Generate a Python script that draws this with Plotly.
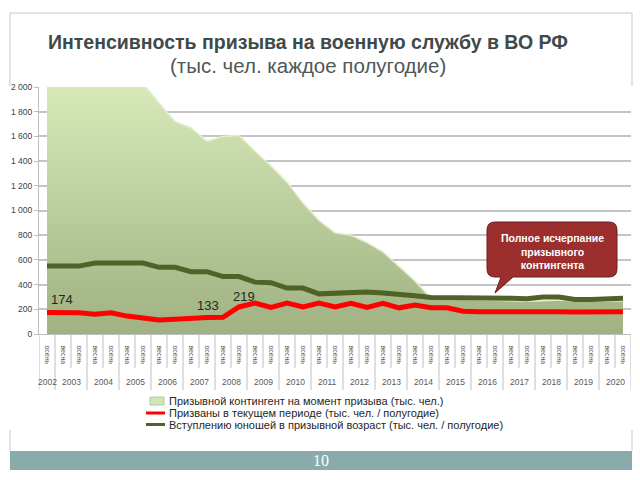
import plotly.graph_objects as go

# ---------------- data ----------------
years = ["2002", "2003", "2004", "2005", "2006", "2007", "2008", "2009", "2010", "2011",
         "2012", "2013", "2014", "2015", "2016", "2017", "2018", "2019", "2020"]
seasons = ["осень"] + ["весна", "осень"] * 18

contingent = [2150, 2200, 2250, 2250, 2200, 2100, 2030, 1870, 1720, 1670, 1560, 1600, 1610,
              1480, 1360, 1230, 1060, 920, 820, 800, 740, 665, 550, 430, 290, 280, 280,
              275, 275, 270, 265, 270, 275, 270, 265, 265, 270]
drafted = [174, 174, 172, 160, 172, 145, 125, 113, 120, 130, 133, 135, 219, 250, 215, 250,
           220, 250, 220, 248, 215, 248, 212, 235, 212, 212, 185, 180, 180, 190, 185, 180,
           180, 178, 180, 180, 180]
coming_of_age = [550, 550, 550, 575, 575, 575, 575, 540, 540, 505, 505, 465, 465, 420, 415,
                 372, 372, 325, 332, 340, 340, 332, 325, 310, 295, 295, 300, 300, 300, 290,
                 285, 300, 300, 280, 280, 290, 290]
y_ticks = [0, 200, 400, 600, 800, 1000, 1200, 1400, 1600, 1800, 2000]
y_tick_text = ["0", "200", "400", "600", "800", "1 000", "1 200", "1 400", "1 600", "1 800", "2 000"]
labelled_points = [0, 10, 12]  # indices of drafted values with data labels

series_names = ["Призывной контингент на момент призыва (тыс. чел.)",
                "Призваны в текущем периоде (тыс. чел. / полугодие)",
                "Вступлению юношей в призывной возраст (тыс. чел. / полугодие)"]

idx = list(range(len(seasons)))

# ---------------- geometry helpers (pixel -> paper) ----------------
L, R, T, B = 39, 631, 87, 334
W, H = R - L, B - T


def px(x):
    return (x - L) / W


def py(y):
    return (B - y) / H


FONT = "Liberation Sans, Arial, sans-serif"

fig = go.Figure()

fig.add_trace(go.Scatter(
    x=idx, y=contingent, mode="lines", name=series_names[0],
    fill="tozeroy",
    fillgradient=dict(type="vertical", colorscale=[[0, "#a0b182"], [1, "#d6e9b7"]],
                      start=0, stop=2000),
    line=dict(color="#e2eecf", width=1.5), showlegend=False,
))
fig.add_trace(go.Scatter(
    x=idx, y=coming_of_age, mode="lines", name=series_names[2],
    line=dict(color="#4f6228", width=5), showlegend=False,
))
fig.add_trace(go.Scatter(
    x=idx, y=drafted, mode="lines", name=series_names[1],
    line=dict(color="#ff0000", width=5), showlegend=False,
))

shapes = []
annotations = []

# category separators below the x axis
for k in range(len(seasons) + 1):
    xb = k - 0.5
    year_boundary = (k == 0) or (k % 2 == 1)
    y_end = py(390) if year_boundary else py(368)
    shapes.append(dict(type="line", xref="x", yref="paper", x0=xb, x1=xb, y0=0, y1=y_end,
                       line=dict(color="#bfbfbf", width=1)))

# year labels
for i, yr in enumerate(years):
    center = 0 if i == 0 else 2 * i - 0.5
    annotations.append(dict(x=center, y=py(382), xref="x", yref="paper", text=yr,
                            showarrow=False, font=dict(family=FONT, size=8.5, color="#595959"),
                            xanchor="center", yanchor="middle"))

# data labels on the red line
shifts = {0: (15, 13), 10: (1, 12), 12: (5, 10)}
for i in labelled_points:
    dx, dy = shifts[i]
    annotations.append(dict(x=i, y=drafted[i], xref="x", yref="y", text=str(drafted[i]),
                            showarrow=False, xshift=dx, yshift=dy,
                            font=dict(family=FONT, size=13, color="#262626"),
                            xanchor="center", yanchor="middle"))

# title
annotations.append(dict(x=px(307.5), y=py(42), xref="paper", yref="paper",
                        text="<b>Интенсивность призыва на военную службу в ВО РФ</b>",
                        showarrow=False, font=dict(family=FONT, size=19.5, color="#3e4a4a"),
                        xanchor="center", yanchor="middle"))
annotations.append(dict(x=px(307.5), y=py(65), xref="paper", yref="paper",
                        text="(тыс. чел. каждое полугодие)",
                        showarrow=False, font=dict(family=FONT, size=20.5, color="#505858"),
                        xanchor="center", yanchor="middle"))

# slide frame
frame = dict(color="#c8c8c8", width=1)
shapes += [
    dict(type="line", xref="paper", yref="paper", x0=px(10), x1=px(632), y0=py(13), y1=py(13), line=frame),
    dict(type="line", xref="paper", yref="paper", x0=px(10), x1=px(10), y0=py(13), y1=py(86), line=frame),
    dict(type="line", xref="paper", yref="paper", x0=px(632), x1=px(632), y0=py(13), y1=py(86), line=frame),
    dict(type="line", xref="paper", yref="paper", x0=px(10), x1=px(10), y0=py(430), y1=py(451), line=frame),
    dict(type="line", xref="paper", yref="paper", x0=px(632), x1=px(632), y0=py(430), y1=py(451), line=frame),
]

# footer bar
shapes.append(dict(type="rect", xref="paper", yref="paper", x0=px(10), x1=px(632),
                   y0=py(470), y1=py(451), fillcolor="#8aabab", line=dict(width=0), layer="above"))
annotations.append(dict(x=px(321), y=py(461), xref="paper", yref="paper", text="10",
                        showarrow=False, font=dict(family="Liberation Serif, serif", size=16, color="#ffffff"),
                        xanchor="center", yanchor="middle"))

# legend (manual, compact like the original)
shapes.append(dict(type="rect", xref="paper", yref="paper", x0=px(150), x1=px(164),
                   y0=py(405), y1=py(397), fillcolor="#d3e4b7", line=dict(color="#b5c697", width=1)))
shapes.append(dict(type="line", xref="paper", yref="paper", x0=px(146), x1=px(165),
                   y0=py(413), y1=py(413), line=dict(color="#ff0000", width=3)))
shapes.append(dict(type="line", xref="paper", yref="paper", x0=px(146), x1=px(165),
                   y0=py(424.5), y1=py(424.5), line=dict(color="#4f6228", width=3)))
for name, ypx in zip(series_names, [401, 413, 424.5]):
    annotations.append(dict(x=px(167), y=py(ypx), xref="paper", yref="paper", text=name,
                            showarrow=False, font=dict(family=FONT, size=11, color="#262626"),
                            xanchor="left", yanchor="middle"))

# callout
x0c, x1c, y0c, y1c, r = 487, 617, 222, 277, 8
pts = [
    ("M", x0c + r, y0c), ("L", x1c - r, y0c), ("Q", x1c, y0c, x1c, y0c + r),
    ("L", x1c, y1c - r), ("Q", x1c, y1c, x1c - r, y1c),
    ("L", 513, y1c), ("L", 495, 293), ("L", 501, y1c),
    ("L", x0c + r, y1c), ("Q", x0c, y1c, x0c, y1c - r),
    ("L", x0c, y0c + r), ("Q", x0c, y0c, x0c + r, y0c),
]
path = ""
for p in pts:
    cmd = p[0]
    coords = p[1:]
    segs = []
    for j in range(0, len(coords), 2):
        segs.append(f"{px(coords[j]):.5f},{py(coords[j + 1]):.5f}")
    path += cmd + " " + " ".join(segs) + " "
path += "Z"
shapes.append(dict(type="path", xref="paper", yref="paper", path=path,
                   fillcolor="#9c2e2e", line=dict(color="#6e1e1e", width=1), layer="above"))
annotations.append(dict(x=px(552), y=py(251), xref="paper", yref="paper",
                        text="<b>Полное исчерпание<br>призывного<br>контингента</b>",
                        showarrow=False, font=dict(family=FONT, size=10.5, color="#ffffff"),
                        xanchor="center", yanchor="middle"))

fig.update_layout(
    width=640, height=480,
    margin=dict(l=L, r=640 - R, t=T, b=480 - B),
    paper_bgcolor="#ffffff", plot_bgcolor="#ffffff",
    showlegend=False,
    shapes=shapes, annotations=annotations,
    xaxis=dict(range=[-0.5, len(seasons) - 0.5], tickmode="array", tickvals=idx, ticktext=seasons,
               tickangle=90, tickfont=dict(family=FONT, size=7, color="#595959"),
               ticks="outside", ticklen=9, tickcolor="rgba(0,0,0,0)",
               showgrid=False, zeroline=False, showline=True, linecolor="#bfbfbf", linewidth=1),
    yaxis=dict(range=[0, 2000], tickmode="array", tickvals=y_ticks, ticktext=y_tick_text,
               tickfont=dict(family=FONT, size=8.5, color="#404040"),
               ticks="outside", ticklen=4, tickcolor="#bfbfbf",
               showgrid=True, gridcolor="#c4c4c4", gridwidth=1.5, zeroline=False,
               showline=True, linecolor="#bfbfbf", linewidth=1),
)

fig.write_html("out.html")
